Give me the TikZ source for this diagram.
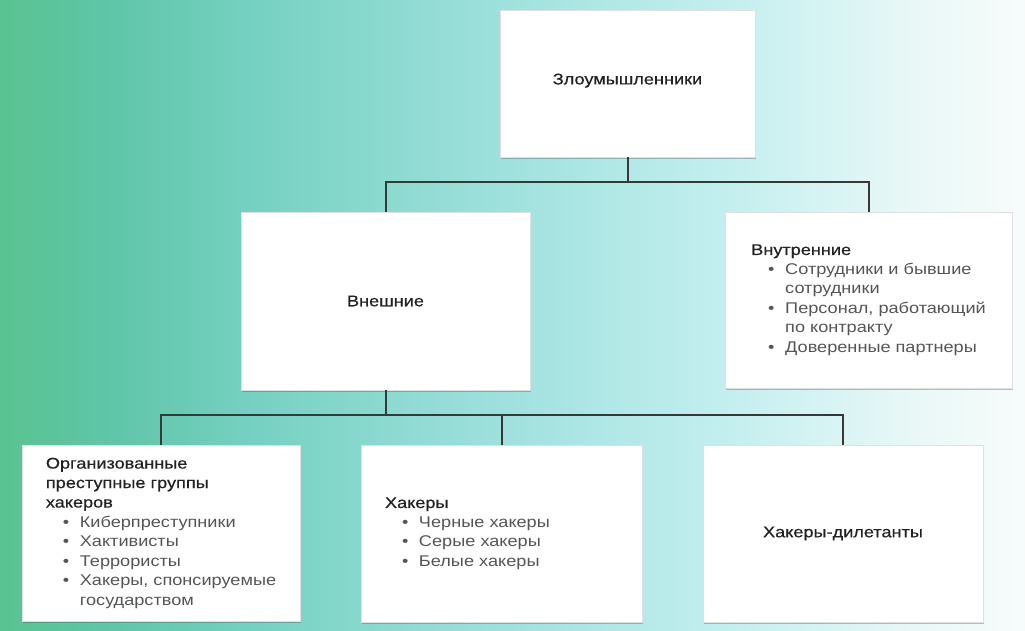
\documentclass[tikz,border=0pt]{standalone}
\usepackage{fontspec}
\setmainfont{Liberation Sans}[FakeStretch=1.17]
\newfontfamily\headfont{Liberation Sans}[FakeStretch=1.17, FakeBold=0.5]
\usetikzlibrary{shadows}
\definecolor{head}{HTML}{222222}
\definecolor{bul}{HTML}{555555}
\definecolor{conn}{HTML}{383838}
\definecolor{bg0}{HTML}{5AC391}
\definecolor{bg1}{HTML}{5EC5A7}
\definecolor{bg2}{HTML}{76D1C2}
\definecolor{bg3}{HTML}{98DED8}
\definecolor{bg4}{HTML}{AEE7E5}
\definecolor{bg5}{HTML}{C2EEEE}
\definecolor{bg6}{HTML}{D6F3F3}
\definecolor{bg7}{HTML}{EAF8F7}
\definecolor{bg8}{HTML}{F7FCFB}
\pgfdeclarehorizontalshading{bgshade}{100bp}{color(0bp)=(bg0); color(25bp)=(bg0); color(30bp)=(bg1); color(37.5bp)=(bg2); color(47.5bp)=(bg3); color(54bp)=(bg4); color(60bp)=(bg5); color(65bp)=(bg6); color(70bp)=(bg7); color(75bp)=(bg8); color(100bp)=(bg8)}
\newcommand{\bitem}[1]{\hspace*{17pt}\makebox[17pt][l]{•}#1}
\newcommand{\bcont}[1]{\hspace*{34pt}#1}
\tikzset{
  box/.style={fill=white, draw=black!12, line width=0.4pt,
    drop shadow={shadow xshift=0.8pt, shadow yshift=-2.2pt, opacity=0.35, fill=black!70},
    font=\fontsize{15.5}{19.5}\selectfont, text=head, inner xsep=24pt, inner ysep=4pt},
  link/.style={draw=conn, line width=2pt},
}
\begin{document}
\begin{tikzpicture}[x=1pt,y=-1pt]
\useasboundingbox (0,0) rectangle (1025,630);
\shade[shading=bgshade] (0,0) rectangle (1025,630);

\node[box, minimum width=255pt, minimum height=147pt, align=center] (top) at (627.5,83.5) {\raisebox{9pt}{\headfont Злоумышленники}};
\node[box, minimum width=289pt, minimum height=178pt, align=center] (ext) at (385.5,301) {\headfont Внешние};
\node[box, minimum width=287pt, minimum height=176pt, align=left] (int) at (868.5,300)
  {{\headfont Внутренние}\\
   \color{bul}\bitem{Сотрудники и бывшие}\\
   \color{bul}\bcont{сотрудники}\\
   \color{bul}\bitem{Персонал, работающий}\\
   \color{bul}\bcont{по контракту}\\
   \color{bul}\bitem{Доверенные партнеры}};
\node[box, minimum width=278pt, minimum height=176pt, align=left] (org) at (161,533)
  {{\headfont Организованные}\\
   {\headfont преступные группы}\\
   {\headfont хакеров}\\
   \color{bul}\bitem{Киберпреступники}\\
   \color{bul}\bitem{Хактивисты}\\
   \color{bul}\bitem{Террористы}\\
   \color{bul}\bitem{Хакеры, спонсируемые}\\
   \color{bul}\bcont{государством}};
\node[box, minimum width=281pt, minimum height=177pt, text width=233pt, align=left] (hack) at (501.5,533.5)
  {{\headfont Хакеры}\\
   \color{bul}\bitem{Черные хакеры}\\
   \color{bul}\bitem{Серые хакеры}\\
   \color{bul}\bitem{Белые хакеры}};
\node[box, minimum width=280pt, minimum height=177pt, align=center] (dil) at (843,533.5) {\headfont Хакеры-дилетанты};

\coordinate (j1) at (627.5,182);
\coordinate (j2) at (385.5,415);
\draw[link] (top.south) -- (j1);
\draw[link] (ext.north) |- (j1) -| (int.north);
\draw[link] (ext.south) -- (j2);
\draw[link] (org.north) |- (j2) -| (dil.north);
\draw[link] (hack.north) -- (hack.north |- j2);
\end{tikzpicture}
\end{document}
